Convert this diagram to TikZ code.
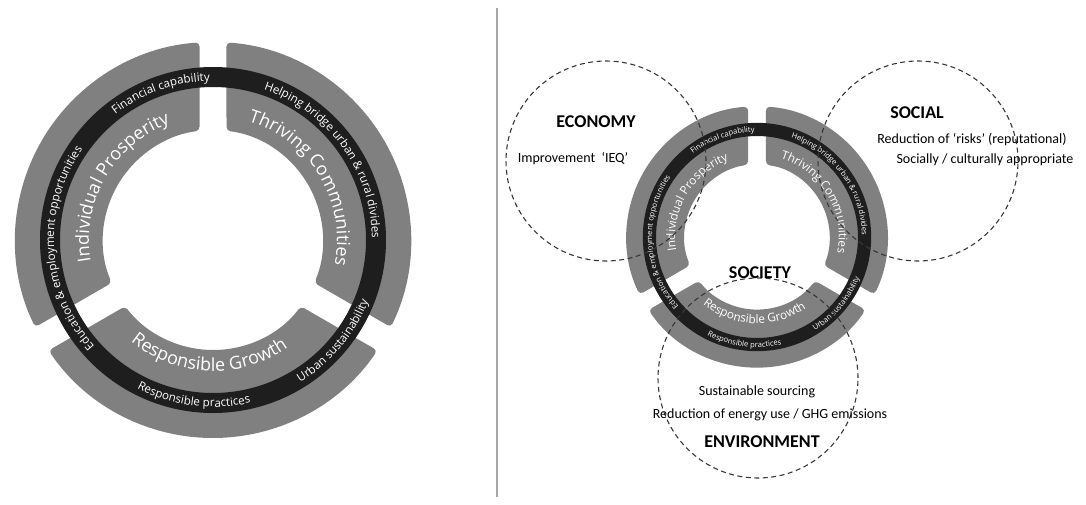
\documentclass[tikz,border=0pt]{standalone}
\usepackage{fontspec}
\setmainfont{Carlito}
\newfontfamily\ringfont{Open Sans}
\usetikzlibrary{decorations.text}

\definecolor{bandgray}{RGB}{128,128,128}
\definecolor{ringdark}{RGB}{30,30,30}
\definecolor{dashgray}{RGB}{55,55,55}

\tikzset{
  dashcircle/.style={circle, draw=dashgray, line width=1.1pt, dash pattern=on 5pt off 3.5pt, inner sep=0pt},
  lbl/.style={font=\fontsize{14}{14}\selectfont, inner sep=0pt},
  title/.style={font=\bfseries\fontsize{18}{18}\selectfont, inner sep=0pt},
  sepline/.style={draw=gray!70, line width=1.3pt}
}

% text along an arc
\newcommand{\ringtext}[5]{%
  \path[decorate, decoration={text along path, text align=center,
    text={|\ringfont\fontsize{#1}{#1}\selectfont\color{white}|#5}}]
    (#2:#4pt) arc[start angle=#2, end angle=#3, radius=#4pt];}

\newcommand{\segment}[1]{%
  \fill[bandgray, rotate=#1, rounded corners=4pt] (93.9:198pt) arc[start angle=93.9, end angle=206.1, radius=198pt]
    -- (202.95:110pt) arc[start angle=202.95, end angle=97.05, radius=110pt] -- cycle;}

\newcommand{\drawring}[2]{%
  \segment{0} \segment{120} \segment{240}
  \fill[ringdark, even odd rule] (0,0) circle[radius=173pt] (0,0) circle[radius=153pt];
  \ringtext{#1}{139.5}{79.5}{159}{Financial capability}
  \ringtext{#1}{81}{-9}{159}{Helping bridge urban {\&} rural divides}
  \ringtext{#1}{-70}{-10}{167}{Urban sustainability}
  \ringtext{#1}{233}{293}{167}{Responsible practices}
  \ringtext{#1}{230}{137}{159}{Education {\&} employment opportunities}
  \ringtext{#2}{195}{105}{124}{Individual Prosperity}
  \ringtext{#2}{76}{-14}{124}{Thriving Communities}
  \ringtext{#2}{228}{308}{131}{Responsible Growth}}

\begin{document}
\begin{tikzpicture}[x=1pt, y=1pt]
\useasboundingbox (0,0) rectangle (1086,504);

% left: the three pillars
\begin{scope}[shift={(213,264)}]
  \drawring{11.6}{18}
\end{scope}

% separator
\coordinate (septop) at (497,496);
\coordinate (sepbot) at (497,7);
\draw[sepline] (septop) -- (sepbot);

% right: pillars with the three dimensions
\begin{scope}[shift={(757,267)}, scale=0.66]
  \drawring{7.6}{11.8}
\end{scope}

\node[dashcircle, minimum size=200pt] (ecocircle) at (606,343) {};
\node[dashcircle, minimum size=200pt] (soccircle) at (918,343) {};
\node[dashcircle, minimum size=200pt] (envcircle) at (758,126) {};

\node[title] (economy) at (596,382) {ECONOMY};
\node[lbl] (ieq) at (573,345) {Improvement~~‘IEQ’};
\node[title] (social) at (917,391) {SOCIAL};
\node[lbl] (risks) at (972,364) {Reduction of ‘risks’ (reputational)};
\node[lbl] (socially) at (985,344) {Socially / culturally appropriate};
\node[title] (society) at (760,231) {SOCIETY};
\node[lbl] (sourcing) at (757,112) {Sustainable sourcing};
\node[lbl] (energy) at (770,89) {Reduction of energy use / GHG emissions};
\node[title] (environment) at (762,62) {ENVIRONMENT};

\end{tikzpicture}
\end{document}
